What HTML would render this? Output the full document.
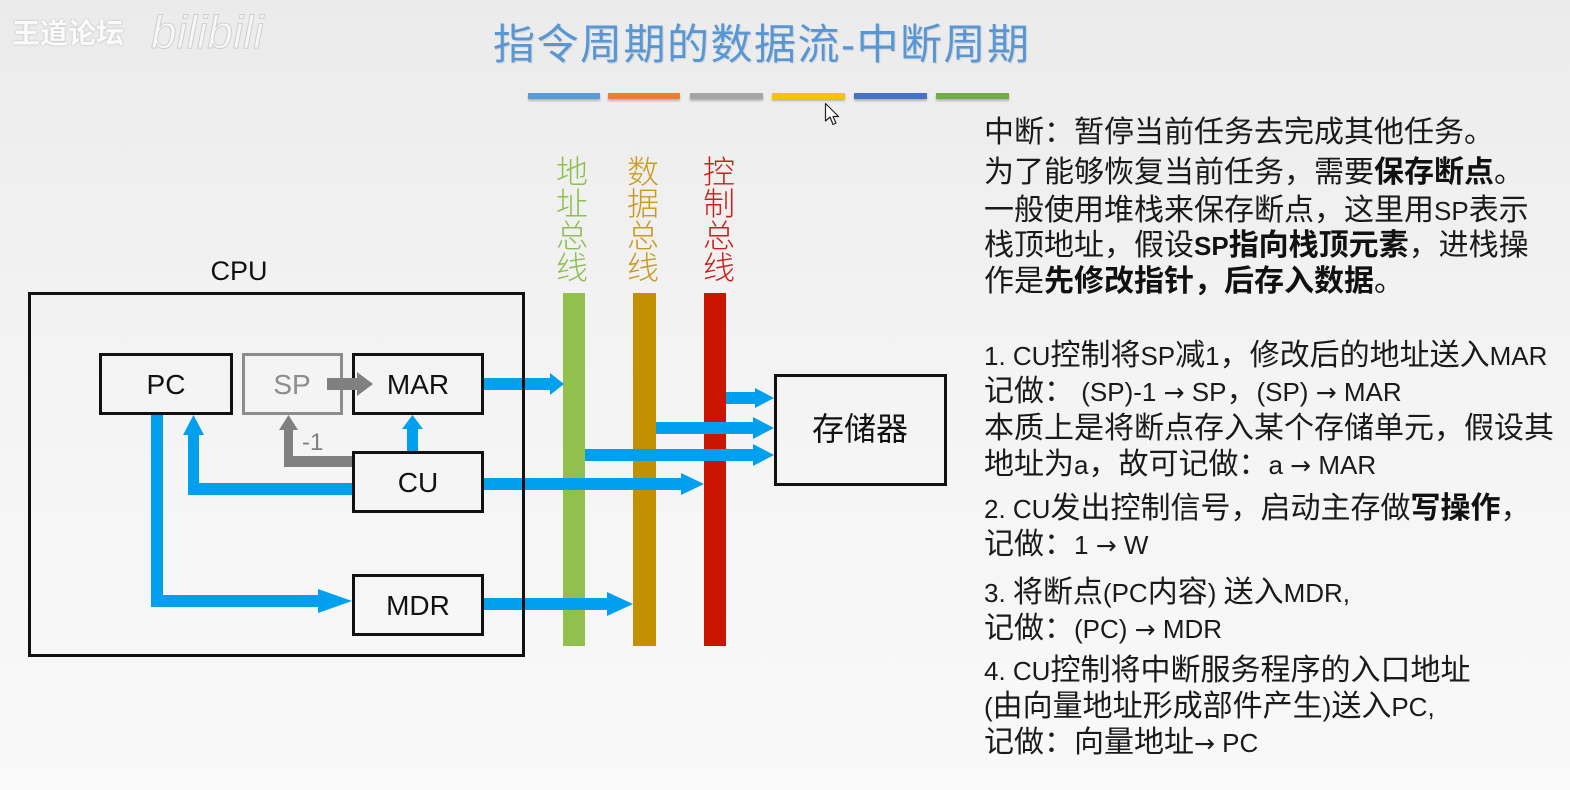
<!DOCTYPE html>
<html><head><meta charset="utf-8">
<style>
html,body{margin:0;padding:0;}
body{width:1570px;height:790px;overflow:hidden;position:relative;
background:linear-gradient(to bottom,#ebebeb 0px,#eeeeee 120px,#f4f4f4 400px,#f9f9f9 790px);
font-family:"Liberation Sans","Noto Sans CJK SC",sans-serif;}
.abs{position:absolute;}
.title{left:493px;top:19px;font-size:42px;line-height:52px;color:#5897d6;letter-spacing:1.5px;white-space:nowrap;
font-family:"Liberation Sans","Noto Sans CJK SC",sans-serif;font-weight:400;text-shadow:1px 1px 1px rgba(0,0,0,0.12);}
.bar{position:absolute;top:93px;height:6px;box-shadow:0 2px 2px rgba(0,0,0,0.25);}
.t{position:absolute;left:984px;font-size:30px;line-height:36px;color:#1a1a1a;white-space:nowrap;
font-family:"Liberation Sans","Noto Sans CJK SC",sans-serif;}
.t b{font-weight:700;color:#111;}
.l{font-size:26px;}
.a{font-family:"DejaVu Sans",sans-serif;font-size:25px;}
.bus{position:absolute;top:156px;width:34px;font-size:32px;line-height:32px;text-align:center;
font-family:"Liberation Sans","Noto Sans CJK SC",sans-serif;font-weight:300;}
.wm{left:12px;top:14px;font-size:28px;line-height:40px;font-weight:700;color:#fbfbfb;
text-shadow:0 0 2px rgba(0,0,0,0.25);font-family:"Liberation Sans","Noto Sans CJK SC",sans-serif;}
</style></head>
<body>

<div class="abs wm">王道论坛</div>
<svg class="abs" style="left:145px;top:0px" width="130" height="60">
<text x="6" y="48" font-family="Liberation Sans, sans-serif" font-size="46" font-style="italic" fill="#f7f7f7" stroke="#cfcfcf" stroke-width="1">bilibili</text>
</svg>

<div class="abs title">指令周期的数据流-中断周期</div>

<div class="bar" style="left:528px;width:72px;background:#5b9bd5"></div>
<div class="bar" style="left:608px;width:72px;background:#ed7d31"></div>
<div class="bar" style="left:690px;width:73px;background:#a5a5a5"></div>
<div class="bar" style="left:772px;width:73px;background:#ffc000"></div>
<div class="bar" style="left:854px;width:73px;background:#4472c4"></div>
<div class="bar" style="left:936px;width:73px;background:#70ad47"></div>

<svg class="abs" style="left:824px;top:102px" width="20" height="26">
<polygon points="1.5,1.5 1.5,19 6,15 9,22.5 12,21 9,14.5 14.5,14.5" fill="#fff" stroke="#222" stroke-width="1.2" stroke-linejoin="round"/>
</svg>

<!-- bus labels -->
<div class="bus" style="left:555px;color:#8fbf50">地<br>址<br>总<br>线</div>
<div class="bus" style="left:626px;color:#c99a1e">数<br>据<br>总<br>线</div>
<div class="bus" style="left:702px;color:#c9211a">控<br>制<br>总<br>线</div>

<svg class="abs" style="left:0;top:0" width="1570" height="790">
  <!-- buses -->
  <rect x="563" y="293" width="22" height="353" fill="#92c04c"/>
  <rect x="633" y="293" width="23" height="353" fill="#c48f00"/>
  <rect x="704" y="293" width="22" height="353" fill="#cc1500"/>

  <!-- blue arrows to buses / memory -->
  <g fill="#00a0ee">
    <polygon points="484,378 550,378 550,373 564,384 550,395 550,390 484,390"/>
    <polygon points="726,392 755,392 755,388 774,398 755,408 755,404 726,404"/>
    <polygon points="656,422 753,422 753,417 774,428 753,439 753,434 656,434"/>
    <polygon points="585,449 753,449 753,444 774,455 753,466 753,461 585,461"/>
    <polygon points="484,478 681,478 681,473 704,484 681,495 681,490 484,490"/>
    <polygon points="484,598 607,598 607,592 633,604 607,616 607,610 484,610"/>
    <!-- PC -> MDR -->
    <polygon points="151,415 163,415 163,595 318,595 318,589 352,601 318,613 318,607 151,607"/>
    <!-- CU -> PC -->
    <polygon points="352,483 199,483 199,435 204,435 193.5,415 183,435 188,435 188,495 352,495"/>
    <!-- CU -> MAR -->
    <polygon points="407,451 407,429 402,429 412.5,415 423,429 418,429 418,451"/>
  </g>

  <!-- boxes -->
  <g fill="none" stroke="#111" stroke-width="3">
    <rect x="100.5" y="354.5" width="131" height="59"/>
    <rect x="353.5" y="354.5" width="129" height="59"/>
    <rect x="353.5" y="452.5" width="129" height="59"/>
    <rect x="353.5" y="575.5" width="129" height="59"/>
    <rect x="29.5" y="293.5" width="494" height="362"/>
    <rect x="775.5" y="375.5" width="170" height="109"/>
  </g>
  <rect x="243.5" y="354.5" width="98" height="59" fill="none" stroke="#8c8c8c" stroke-width="3"/>

  <!-- gray arrows -->
  <g fill="#808080">
    <polygon points="327,378 357,378 357,372 373,384 357,396 357,390 327,390"/>
    <polygon points="352,456 293,456 293,430 298,430 288.5,415 279,430 284,430 284,467 352,467"/>
  </g>
  <text x="302" y="450" font-family="Liberation Sans, sans-serif" font-size="24" fill="#7f7f7f">-1</text>

  <!-- labels -->
  <g font-family="Liberation Sans, sans-serif" font-size="28" fill="#111" text-anchor="middle">
    <text x="166" y="394">PC</text>
    <text x="292" y="394" fill="#8c8c8c">SP</text>
    <text x="418" y="394">MAR</text>
    <text x="418" y="492">CU</text>
    <text x="418" y="615">MDR</text>
    <text x="239" y="280" font-size="27">CPU</text>
  </g>
  <text x="860" y="440" text-anchor="middle" font-family="Liberation Sans, Noto Sans CJK SC, sans-serif" font-size="32" fill="#111">存储器</text>
</svg>

<!-- right text -->
<div class="t" style="top:115px">中断：暂停当前任务去完成其他任务。</div>
<div class="t" style="top:155px">为了能够恢复当前任务，需要<b>保存断点</b>。</div>
<div class="t" style="top:193px">一般使用堆栈来保存断点，这里用<span class="l">SP</span>表示</div>
<div class="t" style="top:228px">栈顶地址，假设<b><span class="l">SP</span>指向栈顶元素</b>，进栈操</div>
<div class="t" style="top:264px">作是<b>先修改指针，后存入数据</b>。</div>

<div class="t" style="top:338px"><span class="l">1. CU</span>控制将<span class="l">SP</span>减<span class="l">1</span>，修改后的地址送入<span class="l">MAR</span></div>
<div class="t" style="top:374px">记做：<span class="l"> (SP)-1 </span><span class="a">→</span><span class="l"> SP</span>，<span class="l">(SP) </span><span class="a">→</span><span class="l"> MAR</span></div>
<div class="t" style="top:411px">本质上是将断点存入某个存储单元，假设其</div>
<div class="t" style="top:447px">地址为<span class="l">a</span>，故可记做：<span class="l">a </span><span class="a">→</span><span class="l"> MAR</span></div>
<div class="t" style="top:491px"><span class="l">2. CU</span>发出控制信号，启动主存做<b>写操作</b>，</div>
<div class="t" style="top:527px">记做：<span class="l">1 </span><span class="a">→</span><span class="l"> W</span></div>
<div class="t" style="top:575px"><span class="l">3. </span>将断点<span class="l">(PC</span>内容<span class="l">) </span>送入<span class="l">MDR,</span></div>
<div class="t" style="top:611px">记做：<span class="l">(PC) </span><span class="a">→</span><span class="l"> MDR</span></div>
<div class="t" style="top:653px"><span class="l">4. CU</span>控制将中断服务程序的入口地址</div>
<div class="t" style="top:689px"><span class="l">(</span>由向量地址形成部件产生<span class="l">)</span>送入<span class="l">PC,</span></div>
<div class="t" style="top:725px">记做：向量地址<span class="a">→</span><span class="l"> PC</span></div>

</body></html>
